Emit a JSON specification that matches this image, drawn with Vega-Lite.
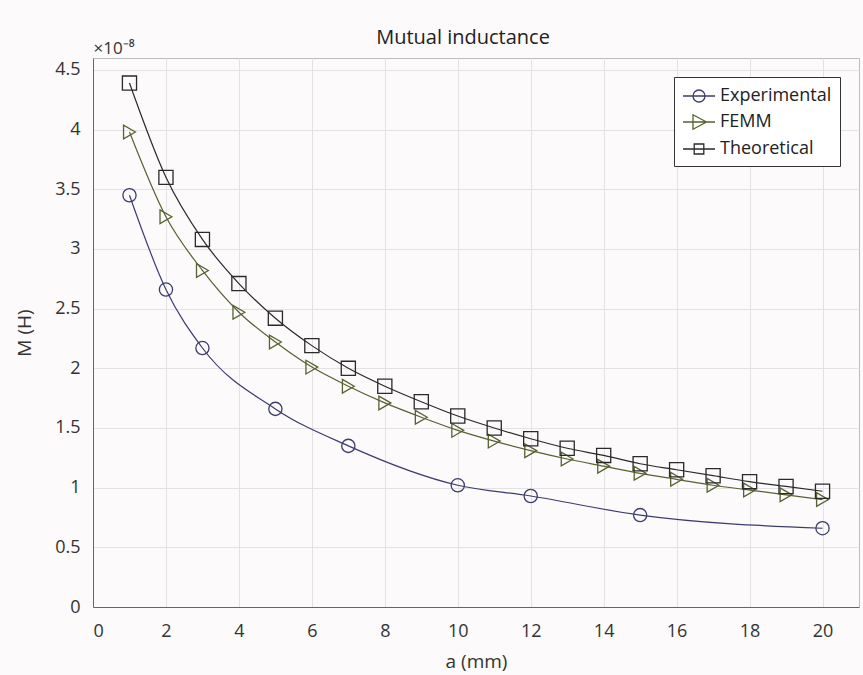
{
  "$schema": "https://vega.github.io/schema/vega-lite/v6.json",
  "autosize": "none",
  "width": 766,
  "height": 549,
  "padding": {"left": 93, "top": 58, "right": 4, "bottom": 68},
  "background": "#fcfafa",
  "config": {
    "font": "Open Sans",
    "view": {"stroke": "#bdbdbd", "strokeWidth": 1},
    "axis": {"labelFont": "Open Sans", "titleFont": "Open Sans", "labelColor": "#333", "titleColor": "#333", "titleFontWeight": "normal", "gridColor": "#e3e3e3", "domainColor": "#666"}
  },
  "title": {"text": "Mutual inductance", "fontSize": 20, "fontWeight": "normal", "color": "#222", "anchor": "middle", "offset": -9, "dx": -13},
  "data": {"values": [
    {"a": 1, "M": 3.45, "s": "Experimental"},
    {"a": 2, "M": 2.66, "s": "Experimental"},
    {"a": 3, "M": 2.17, "s": "Experimental"},
    {"a": 5, "M": 1.66, "s": "Experimental"},
    {"a": 7, "M": 1.35, "s": "Experimental"},
    {"a": 10, "M": 1.02, "s": "Experimental"},
    {"a": 12, "M": 0.93, "s": "Experimental"},
    {"a": 15, "M": 0.77, "s": "Experimental"},
    {"a": 20, "M": 0.66, "s": "Experimental"},
    {"a": 1, "M": 3.98, "s": "FEMM"},
    {"a": 2, "M": 3.27, "s": "FEMM"},
    {"a": 3, "M": 2.82, "s": "FEMM"},
    {"a": 4, "M": 2.47, "s": "FEMM"},
    {"a": 5, "M": 2.22, "s": "FEMM"},
    {"a": 6, "M": 2.01, "s": "FEMM"},
    {"a": 7, "M": 1.85, "s": "FEMM"},
    {"a": 8, "M": 1.71, "s": "FEMM"},
    {"a": 9, "M": 1.59, "s": "FEMM"},
    {"a": 10, "M": 1.48, "s": "FEMM"},
    {"a": 11, "M": 1.39, "s": "FEMM"},
    {"a": 12, "M": 1.31, "s": "FEMM"},
    {"a": 13, "M": 1.24, "s": "FEMM"},
    {"a": 14, "M": 1.18, "s": "FEMM"},
    {"a": 15, "M": 1.12, "s": "FEMM"},
    {"a": 16, "M": 1.07, "s": "FEMM"},
    {"a": 17, "M": 1.02, "s": "FEMM"},
    {"a": 18, "M": 0.98, "s": "FEMM"},
    {"a": 19, "M": 0.94, "s": "FEMM"},
    {"a": 20, "M": 0.90, "s": "FEMM"},
    {"a": 1, "M": 4.39, "s": "Theoretical"},
    {"a": 2, "M": 3.60, "s": "Theoretical"},
    {"a": 3, "M": 3.08, "s": "Theoretical"},
    {"a": 4, "M": 2.71, "s": "Theoretical"},
    {"a": 5, "M": 2.42, "s": "Theoretical"},
    {"a": 6, "M": 2.19, "s": "Theoretical"},
    {"a": 7, "M": 2.00, "s": "Theoretical"},
    {"a": 8, "M": 1.85, "s": "Theoretical"},
    {"a": 9, "M": 1.72, "s": "Theoretical"},
    {"a": 10, "M": 1.60, "s": "Theoretical"},
    {"a": 11, "M": 1.50, "s": "Theoretical"},
    {"a": 12, "M": 1.41, "s": "Theoretical"},
    {"a": 13, "M": 1.33, "s": "Theoretical"},
    {"a": 14, "M": 1.27, "s": "Theoretical"},
    {"a": 15, "M": 1.20, "s": "Theoretical"},
    {"a": 16, "M": 1.15, "s": "Theoretical"},
    {"a": 17, "M": 1.10, "s": "Theoretical"},
    {"a": 18, "M": 1.05, "s": "Theoretical"},
    {"a": 19, "M": 1.01, "s": "Theoretical"},
    {"a": 20, "M": 0.97, "s": "Theoretical"}
  ]},
  "resolve": {"axis": {"x": "independent"}, "scale": {"shape": "independent", "color": "independent"}, "legend": {"shape": "independent", "color": "independent"}},
  "layer": [
    {
      "mark": {"type": "line", "interpolate": "monotone", "strokeWidth": 1.2},
      "encoding": {
        "x": {"field": "a", "type": "quantitative", "scale": {"domain": [0, 21], "nice": false, "zero": false},
          "axis": {"values": [0, 2, 4, 6, 8, 10, 12, 14, 16, 18, 20], "ticks": false, "labelFontSize": 18, "labelPadding": 15, "title": "a (mm)", "titleFontSize": 19, "titlePadding": 12}},
        "y": {"field": "M", "type": "quantitative", "scale": {"domain": [0, 4.6], "nice": false},
          "axis": {"values": [0, 0.5, 1, 1.5, 2, 2.5, 3, 3.5, 4, 4.5], "format": "~g", "ticks": false, "labelFontSize": 18, "labelPadding": 13, "title": "M (H)", "titleFontSize": 19, "titlePadding": 20}},
        "color": {"field": "s", "type": "nominal", "scale": {"domain": ["Experimental", "FEMM", "Theoretical"], "range": ["#3c3c6e", "#56622f", "#2a2a2a"]}, "legend": null},
        "detail": {"field": "s"}
      }
    },
    {
      "mark": {"type": "point", "strokeWidth": 1.3, "filled": false, "opacity": 1},
      "encoding": {
        "x": {"field": "a", "type": "quantitative",
          "axis": {"orient": "top", "labels": false, "ticks": false, "grid": false, "domain": false, "title": "×10⁻⁸", "titleFontSize": 17, "titleAnchor": "start", "titleAlign": "left", "titlePadding": 1, "titleColor": "#333"}},
        "y": {"field": "M", "type": "quantitative"},
        "color": {"field": "s", "type": "nominal", "scale": {"domain": ["Experimental", "FEMM", "Theoretical"], "range": ["#3c3c6e", "#56622f", "#2a2a2a"]}, "legend": null},
        "size": {"field": "s", "type": "ordinal", "scale": {"domain": ["Experimental", "FEMM", "Theoretical"], "range": [175, 200, 120]}, "legend": null},
        "shape": {"field": "s", "type": "nominal", "scale": {"domain": ["Experimental", "FEMM", "Theoretical"], "range": ["circle", "triangle-right", "square"]}, "legend": null}
      }
    },
    {
      "transform": [{"filter": "datum.a < 0"}],
      "mark": {"type": "point", "filled": false, "opacity": 1, "strokeWidth": 1.3},
      "encoding": {
        "x": {"field": "a", "type": "quantitative", "axis": null},
        "y": {"field": "M", "type": "quantitative"},
        "color": {"field": "s", "type": "nominal", "scale": {"domain": ["Experimental", "FEMM", "Theoretical"], "range": ["#3c3c6e", "#56622f", "#2a2a2a"]}, "legend": {"orient": "top-right", "offset": 19, "title": null, "strokeColor": "#333", "fillColor": "#ffffff", "padding": 8, "labelFontSize": 18, "labelColor": "#222", "labelFont": "Open Sans", "symbolSize": 400, "symbolStrokeWidth": 1.3, "symbolOpacity": 1, "rowPadding": 6, "labelOffset": 16}},
        "shape": {"field": "s", "type": "nominal", "scale": {"domain": ["Experimental", "FEMM", "Theoretical"], "range": ["M-1,0H2.2M1.2,0A0.6,0.6 0 1,0 0,0A0.6,0.6 0 1,0 1.2,0", "M-1,0H2.2M1.35,0L0,-0.72L0,0.72Z", "M-1,0H2.2M0.12,-0.5H1.08V0.5H0.12Z"]}, "legend": null}
      }
    }
  ]
}
